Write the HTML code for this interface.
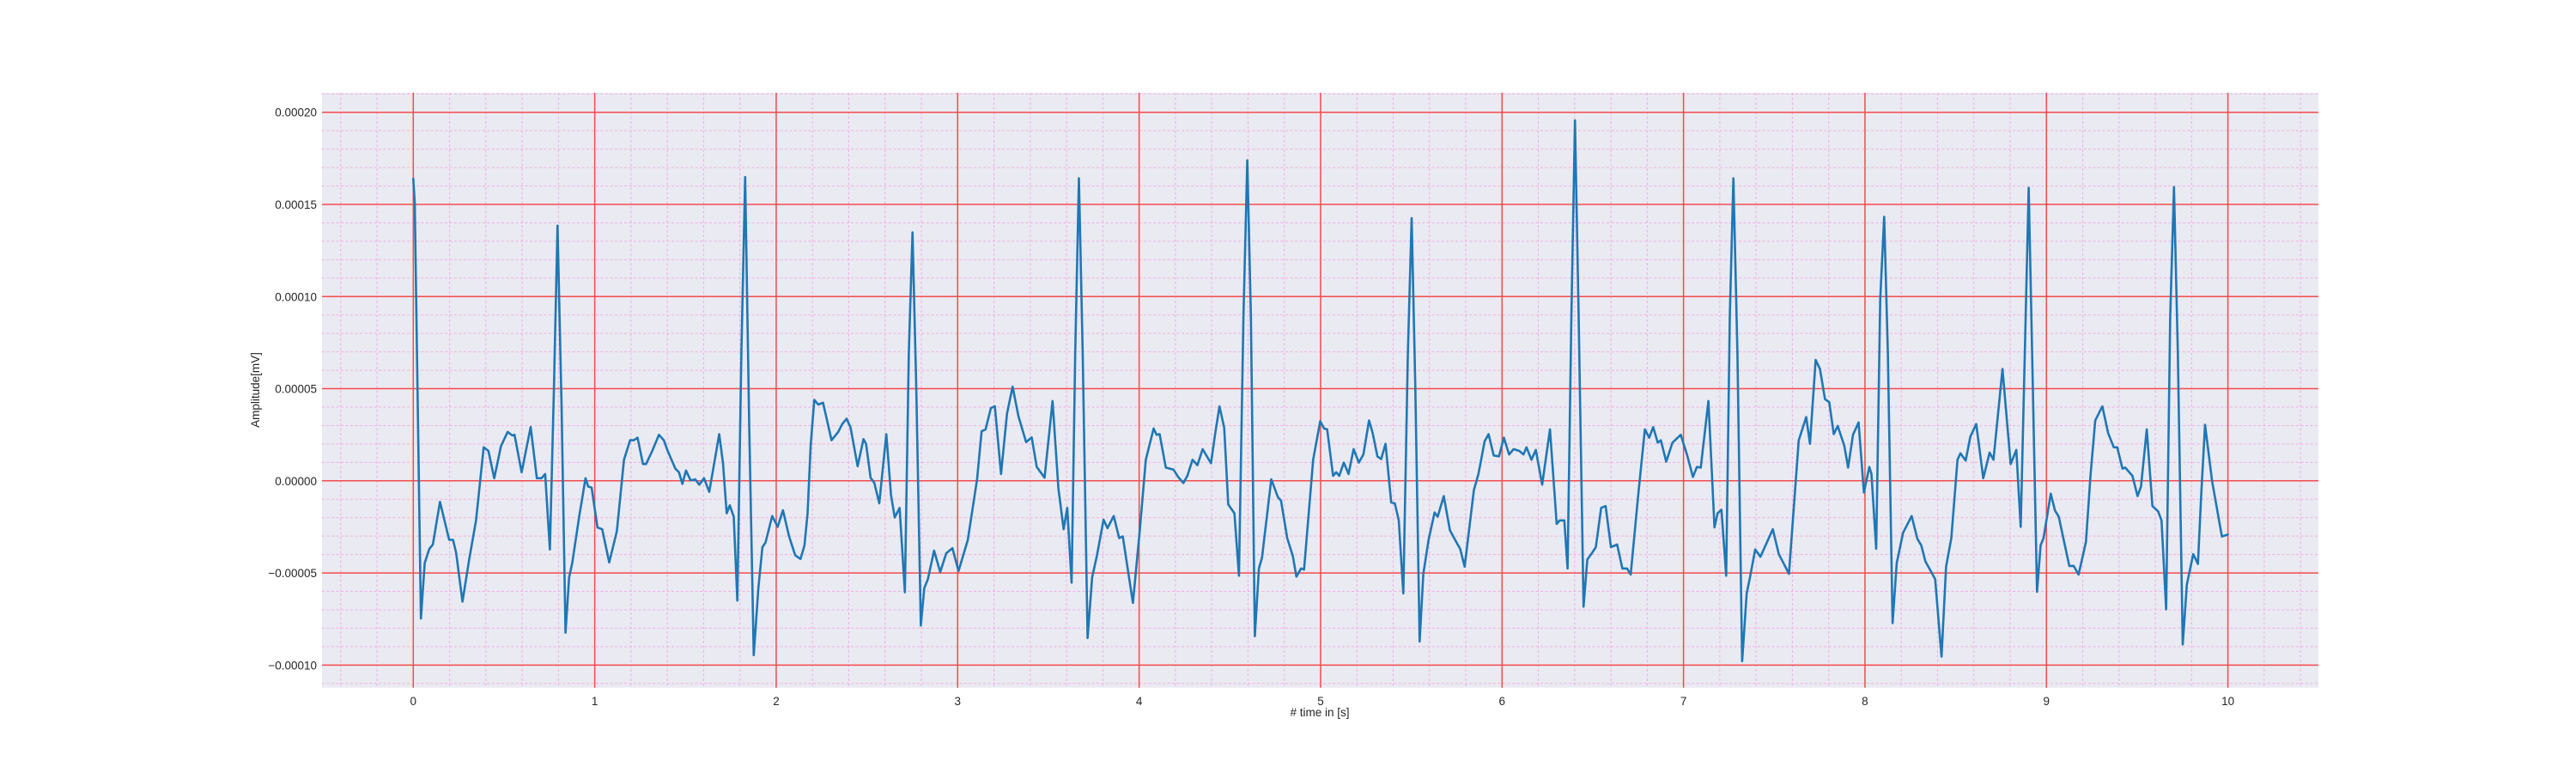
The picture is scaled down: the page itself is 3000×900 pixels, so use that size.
<!DOCTYPE html>
<html><head><meta charset="utf-8">
<style>
html,body{margin:0;padding:0;background:#fff;}
svg{display:block;font-family:"Liberation Sans",sans-serif;}
</style></head>
<body>
<svg id="chart" width="3000" height="900" viewBox="0 0 3000 900" xmlns="http://www.w3.org/2000/svg">
<rect x="375" y="108" width="2325" height="692.7" fill="#eaeaf2"/>
<g id="minor"></g>
<g id="major"></g>
<g id="series"></g>
<g id="xticks"></g>
<g id="yticks"></g>
<text x="1537" y="834" font-size="13.5" fill="#262626" text-anchor="middle"># time in [s]</text>
<text x="0" y="0" font-size="13.5" fill="#262626" text-anchor="middle" transform="translate(302,454) rotate(-90)">Amplitude[mV]</text>
</svg>
<script>
const times = [0,0.008,0.042,0.063,0.088,0.108,0.147,0.198,0.219,0.236,0.271,0.308,0.346,0.388,0.414,0.446,0.483,0.520,0.546,0.558,0.597,0.647,0.681,0.707,0.727,0.753,0.775,0.795,0.817,0.839,0.859,0.876,0.914,0.949,0.964,0.983,1.015,1.041,1.080,1.122,1.161,1.195,1.215,1.236,1.266,1.283,1.317,1.354,1.381,1.402,1.444,1.464,1.483,1.503,1.529,1.554,1.576,1.602,1.631,1.686,1.707,1.727,1.744,1.766,1.786,1.808,1.829,1.851,1.876,1.902,1.924,1.941,1.978,2.008,2.037,2.071,2.105,2.134,2.156,2.173,2.190,2.210,2.232,2.258,2.305,2.342,2.364,2.388,2.410,2.449,2.481,2.495,2.520,2.541,2.568,
2.607,2.633,2.653,2.680,2.709,2.731,2.751,2.772,2.797,2.816,2.836,2.870,2.904,2.937,2.971,3.005,3.056,3.107,3.132,3.154,3.183,3.205,3.239,3.272,3.303,3.335,3.377,3.408,3.436,3.479,3.523,3.555,3.584,3.604,3.628,3.648,3.668,3.689,3.716,3.741,3.767,3.804,3.826,3.860,3.890,3.910,3.966,4.003,4.037,4.080,4.096,4.113,4.147,4.190,4.215,4.244,4.266,4.294,4.321,4.350,4.396,4.418,4.443,4.469,4.491,4.525,4.550,4.575,4.596,4.616,4.638,4.660,4.677,4.728,4.765,4.782,4.816,4.847,4.867,4.892,4.909,4.959,4.998,5.019,5.036,5.069,5.086,5.103,5.128,5.154,
5.182,5.211,5.236,5.267,5.287,5.313,5.334,5.358,5.389,5.409,5.431,5.456,5.481,5.502,5.522,5.546,5.566,5.595,5.628,5.645,5.679,5.713,5.752,5.769,5.794,5.845,5.870,5.904,5.926,5.954,5.983,6.010,6.039,6.064,6.095,6.118,6.135,6.162,6.186,6.221,6.264,6.301,6.318,6.343,6.361,6.382,6.402,6.422,6.449,6.470,6.495,6.517,6.546,6.571,6.600,6.634,6.663,6.689,6.709,6.748,6.787,6.811,6.833,6.858,6.875,6.905,6.939,6.985,7.019,7.052,7.074,7.095,7.137,7.171,7.188,7.209,7.235,7.255,7.275,7.297,7.323,7.348,7.368,7.395,7.424,7.492,7.525,7.551,7.581,7.635,7.676,7.697,7.728,7.752,7.780,7.803,7.828,7.850,7.886,7.907,7.934,7.965,7.994,8.024,8.036,8.062,8.084,8.106,8.126,8.152,8.175,8.210,8.257,8.289,8.310,8.333,8.360,8.387,8.422,8.447,8.476,8.510,8.526,8.555,8.581,8.613,8.652,8.687,8.708,8.758,8.803,8.834,8.858,8.881,8.902,8.921,8.948,8.968,8.984,9.024,9.047,9.068,9.126,9.150,9.177,9.218,9.242,9.269,9.308,9.340,9.371,9.390,9.419,9.434,9.474,9.502,9.521,9.553,9.584,9.616,9.634,9.660,9.682,9.703,9.724,9.751,9.774,9.809,9.835,9.853,9.874,9.913,9.967,10.0];
const amplitudesE5 = [16.4,15.1,-7.47,-4.47,-3.7,-3.46,-1.14,-3.2,-3.2,-3.9,-6.56,-4.27,-2.15,1.82,1.62,0.14,1.88,2.65,2.46,2.5,0.46,2.92,0.14,0.14,0.37,-3.73,5.0,13.85,4.04,-8.24,-5.24,-4.47,-1.95,0.14,-0.31,-0.37,-2.53,-2.63,-4.43,-2.73,1.14,2.2,2.2,2.34,0.91,0.91,1.62,2.5,2.2,1.62,0.66,0.46,-0.17,0.56,0.02,0.08,-0.21,0.14,-0.6,2.53,0.95,-1.76,-1.33,-1.95,-6.5,6.94,16.48,3.08,-9.46,-5.82,-3.6,-3.35,-1.91,-2.5,-1.6,-3.02,-4.04,-4.24,-3.5,-1.76,1.91,4.39,4.14,4.24,2.2,2.65,3.08,3.37,2.88,0.79,2.26,2.01,0.17,-0.12,-1.22,
2.53,-0.79,-1.99,-1.47,-6.05,6.94,13.48,5.0,-7.85,-5.82,-5.34,-3.79,-4.95,-3.93,-3.66,-4.89,-3.21,0.08,2.69,2.79,3.95,4.04,0.37,3.66,5.11,3.5,2.1,2.36,0.75,0.17,4.33,-0.41,-2.63,-1.47,-5.53,6.94,16.42,6.94,-8.53,-5.24,-4.08,-2.11,-2.57,-1.91,-3.11,-3.02,-6.63,-2.73,1.14,2.84,2.5,2.53,0.72,0.6,0.21,-0.12,0.27,1.14,0.85,1.72,0.95,2.5,4.04,2.88,-1.28,-1.76,-5.15,8.88,17.39,8.88,-8.43,-4.76,-4.18,0.08,-0.89,-1.08,-3.11,-4.08,-5.2,-4.76,-4.82,1.14,3.23,2.84,2.79,0.27,0.46,0.27,0.99,0.37,
1.72,0.99,1.43,3.27,2.59,1.33,1.18,2.01,-1.18,-1.22,-2.15,-6.11,6.94,14.26,5.01,-8.72,-5.05,-3.21,-1.72,-1.95,-0.83,-2.69,-3.4,-3.69,-4.66,-0.5,0.37,2.15,2.53,1.37,1.33,2.34,1.43,1.72,1.62,1.43,1.82,1.14,1.68,-0.21,2.79,-2.34,-2.15,-2.15,-4.76,8.88,19.56,8.88,-6.83,-4.27,-3.93,-3.6,-1.47,-1.37,-3.6,-3.46,-4.76,-4.76,-5.09,-0.99,2.79,2.34,2.92,2.07,2.2,1.04,2.07,2.5,1.43,0.21,0.75,0.72,4.33,-2.53,-1.76,-1.57,-5.15,8.88,16.42,6.94,-9.79,-6.11,-5.15,-3.73,-4.12,-2.63,-3.98,-4.47,-5.05,2.2,3.46,2.01,6.56,6.07,4.43,4.27,2.53,2.98,1.91,0.72,2.5,3.17,-0.64,0.75,0.37,-3.69,9.85,14.33,6.94,-7.72,-4.47,-2.82,-1.91,-3.15,-3.5,-4.37,-4.85,-5.34,-9.54,-4.66,-3.11,1.14,1.49,1.1,2.4,3.08,0.14,1.53,1.14,6.07,0.91,1.68,-2.5,6.94,15.9,6.94,-6.02,-3.5,-3.11,-0.7,-1.61,-1.95,-4.62,-4.62,-5.09,-3.31,0.17,3.27,4.04,2.59,1.82,1.82,0.66,0.72,0.27,-0.83,-0.31,2.79,-1.37,-1.66,-2.15,-6.98,8.88,15.94,6.94,-8.88,-5.63,-3.98,-4.51,-0.79,3.04,-0.02,-3.02,-2.92];
const xTickLabels = ["0","1","2","3","4","5","6","7","8","9","10"];
const yTickValues = [-0.0001,-0.00005,0,0.00005,0.0001,0.00015,0.0002];
const yTickLabels = ["\u22120.00010","\u22120.00005","0.00000","0.00005","0.00010","0.00015","0.00020"];

const NS="http://www.w3.org/2000/svg";
const L=375,R=2700,T=108,B=800.7;
function xs(t){return 481.3+t*211.33;}
function ys(v){return 559.8-v*2145400;}
function mk(tag,attrs,parent){const e=document.createElementNS(NS,tag);for(const k in attrs)e.setAttribute(k,attrs[k]);parent.appendChild(e);return e;}
const gMin=document.getElementById('minor'),gMaj=document.getElementById('major'),gS=document.getElementById('series'),gX=document.getElementById('xticks'),gY=document.getElementById('yticks');
for(let i=-2;i<=52;i++){const t=i*0.2;const x=xs(t);if(x<L||x>R)continue;
 const l=mk('line',{x1:x,x2:x,y1:T,y2:B,stroke:'#f0b0e0','stroke-width':1,'stroke-dasharray':'3,2.5'},gMin);
 
 }
for(let i=-11;i<=21;i++){const y=ys(i*1e-5);if(y<T||y>B)continue;
 const l=mk('line',{x1:L,x2:R,y1:y,y2:y,stroke:'#f0b0e0','stroke-width':1,'stroke-dasharray':'3,2.5'},gMin);
 
 }
xTickLabels.forEach(s=>{const x=xs(parseFloat(s));
 const l=mk('line',{x1:x,x2:x,y1:T,y2:B,stroke:'#f44c4c','stroke-width':1.5},gMaj);
 
 
 const tx=mk('text',{x:x,y:821,'font-size':13.5,fill:'#262626','text-anchor':'middle'},gX);tx.textContent=s;
 
 });
yTickValues.forEach((v,i)=>{const y=ys(v);
 const l=mk('line',{x1:L,x2:R,y1:y,y2:y,stroke:'#f44c4c','stroke-width':1.5},gMaj);
 
 
 const tx=mk('text',{x:369,y:y+5,'font-size':13.5,fill:'#262626','text-anchor':'end'},gY);tx.textContent=yTickLabels[i];
 
 });
const pts=times.map((t,i)=>xs(t).toFixed(1)+','+ys(amplitudesE5[i]*1e-5).toFixed(1)).join(' ');
const pl=mk('polyline',{points:pts,fill:'none',stroke:'#1f77b4','stroke-width':2.6,'stroke-linejoin':'round','stroke-linecap':'round'},gS);


</script>
</body></html>
